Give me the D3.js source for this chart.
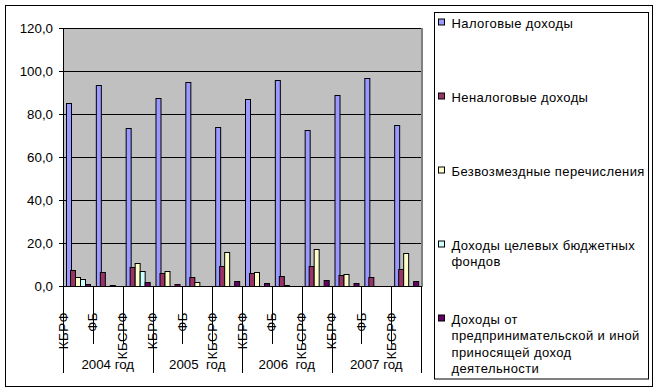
<!DOCTYPE html>
<html>
<head>
<meta charset="utf-8">
<script src="https://cdn.jsdelivr.net/npm/d3@7"></script>
<style>
  html, body { margin: 0; padding: 0; background: #fff; }
  svg text { font-family: "Liberation Sans", Arial, sans-serif; fill: #000; }
</style>
</head>
<body>
<svg id="chart" width="658" height="392"></svg>
<script>
// ---- data ----
const categories = ["КБРФ", "ФБ", "КБСРФ", "КБРФ", "ФБ", "КБСРФ", "КБРФ", "ФБ", "КБСРФ", "КБРФ", "ФБ", "КБСРФ"];
const years = ["2004 год", "2005  год", "2006  год", "2007 год"];
const seriesNames = [
  "Налоговые доходы",
  "Неналоговые доходы",
  "Безвозмездные перечисления",
  "Доходы целевых бюджетных фондов",
  "Доходы от предпринимательской и иной приносящей доход деятельности"
];
const legendLines = [
  ["Налоговые доходы"],
  ["Неналоговые доходы"],
  ["Безвозмездные перечисления"],
  ["Доходы целевых бюджетных", "фондов"],
  ["Доходы от", "предпринимательской и иной", "приносящей доход", "деятельности"]
];
const taxIncome      = [85.0, 93.3, 73.3, 87.3, 94.7, 74.0, 87.0, 95.8, 72.6, 88.7, 96.6, 74.7];
const nonTaxIncome   = [7.5, 6.5, 8.7, 5.9, 4.2, 9.5, 5.9, 4.7, 9.3, 5.0, 4.2, 7.8];
const transfers      = [4.3, 0, 10.5, 6.8, 1.9, 15.7, 6.5, 0.6, 17.2, 5.6, 0, 15.5];
const targetFunds    = [3.1, 0.6, 6.8, 0, 0, 0, 0, 0, 0, 0, 0, 0];
const businessIncome = [0.9, 0, 1.9, 0.9, 0, 2.3, 1.4, 0, 2.8, 1.2, 0, 2.3];
const yTicks = [0, 20, 40, 60, 80, 100, 120];
const colors = ["#9999FF", "#993366", "#FFFFCC", "#CCFFFF", "#660066"];

const seriesValues = [taxIncome, nonTaxIncome, transfers, targetFunds, businessIncome];

// ---- layout ----
const svg = d3.select("#chart");
const plot = { left: 63, right: 421, top: 28, bottom: 286 };

const idx = d3.range(categories.length);
const x0 = d3.scaleBand().domain(idx).range([plot.left, plot.right]).padding(0);
const bw = x0.bandwidth();
const x1 = d3.scaleBand().domain(d3.range(seriesNames.length))
  .range([bw * 0.085, bw * 0.915]).padding(0);
const y = d3.scaleLinear().domain([0, 120]).range([plot.bottom, plot.top]);

const locale = d3.formatLocale({ decimal: ",", thousands: " ", grouping: [3], currency: ["", ""] });
const fmt = locale.format(".1f");

// outer border
svg.append("rect").attr("x", 5.5).attr("y", 5.5).attr("width", 647).attr("height", 381)
  .attr("fill", "#fff").attr("stroke", "#000");

// plot background
svg.append("rect").attr("x", plot.left).attr("y", plot.top)
  .attr("width", plot.right - plot.left).attr("height", plot.bottom - plot.top)
  .attr("fill", "#C0C0C0");
// shadow on right
svg.append("line").attr("x1", plot.right + 1).attr("x2", plot.right + 1)
  .attr("y1", plot.top).attr("y2", plot.bottom + 1)
  .attr("stroke", "#808080").attr("stroke-width", 2);

// gridlines + y axis
const yAxis = d3.axisLeft(y).tickValues(yTicks).tickFormat(fmt)
  .tickSize(-(plot.right - plot.left)).tickPadding(10);
const gy = svg.append("g").attr("transform", `translate(${plot.left},0)`).call(yAxis);
gy.select(".domain").remove();
gy.selectAll(".tick line").attr("stroke", "#000").attr("shape-rendering", "crispEdges")
  .attr("x1", -4);
gy.selectAll(".tick text").attr("font-size", 13.3).attr("x", -10).attr("dy", "0.35em");
gy.selectAll(".tick").filter(d => d === 0).select("line").attr("x2", 0);

// bars
const groups = svg.append("g").selectAll("g").data(idx).join("g")
  .attr("transform", i => `translate(${x0(i)},0)`);
groups.selectAll("rect")
  .data(i => seriesValues.map((vals, s) => ({ s, v: vals[i] })).filter(d => d.v > 0))
  .join("rect")
  .attr("x", d => Math.round(x1(d.s)) + 0.5)
  .attr("width", Math.round(x1.bandwidth()))
  .attr("y", d => Math.round(y(d.v)) + 0.5)
  .attr("height", d => Math.max(1, Math.round(y(0)) - Math.round(y(d.v))))
  .attr("fill", d => colors[d.s])
  .attr("stroke", "#000").attr("stroke-width", 1);

// axes lines
svg.append("line").attr("x1", plot.left + 0.5).attr("x2", plot.left + 0.5)
  .attr("y1", plot.top).attr("y2", plot.bottom).attr("stroke", "#000");
svg.append("line").attr("x1", plot.left).attr("x2", plot.right + 1)
  .attr("y1", plot.bottom + 0.5).attr("y2", plot.bottom + 0.5).attr("stroke", "#000");

// category ticks
const xAxisG = svg.append("g");
idx.forEach(i => {
  const xx = Math.round(x0(i)) + 0.5;
  const isGroup = i % 3 === 0;
  xAxisG.append("line").attr("x1", xx).attr("x2", xx)
    .attr("y1", plot.bottom).attr("y2", isGroup ? 373 : 344).attr("stroke", "#000");
});
xAxisG.append("line").attr("x1", plot.right + 0.5).attr("x2", plot.right + 0.5)
  .attr("y1", plot.bottom).attr("y2", 373).attr("stroke", "#000");

// category labels (rotated)
svg.append("g").selectAll("text").data(idx).join("text")
  .attr("transform", i => `translate(${x0(i)},312) rotate(-90)`)
  .attr("text-anchor", "end").attr("dy", "0.35em").attr("font-size", 13.3)
  .attr("letter-spacing", 0.5)
  .text(i => categories[i]);

// year labels
svg.append("g").selectAll("text").data(years).join("text")
  .attr("x", (d, k) => (x0(k * 3) + x0(k * 3 + 2) + bw) / 2)
  .attr("y", 369).attr("text-anchor", "middle").attr("font-size", 13.3)
  .style("white-space", "pre")
  .text(d => d);

// legend
svg.append("rect").attr("x", 434.5).attr("y", 12.5).attr("width", 214).attr("height", 366.5)
  .attr("fill", "#fff").attr("stroke", "#000");
const lg = svg.append("g").selectAll("g").data(seriesNames).join("g")
  .attr("transform", (d, k) => `translate(0,${27.5 + k * 74})`);
lg.append("rect").attr("x", 438.5).attr("y", -8.5).attr("width", 6).attr("height", 6)
  .attr("fill", (d, k) => colors[k]).attr("stroke", "#000");
lg.each(function (d, k) {
  const t = d3.select(this).append("text").attr("x", 451.5).attr("y", 0)
    .attr("font-size", 13).attr("letter-spacing", 0.4);
  legendLines[k].forEach((line, j) => {
    t.append("tspan").attr("x", 451.5).attr("y", j * 16.5).text(line);
  });
});
</script>
</body>
</html>
